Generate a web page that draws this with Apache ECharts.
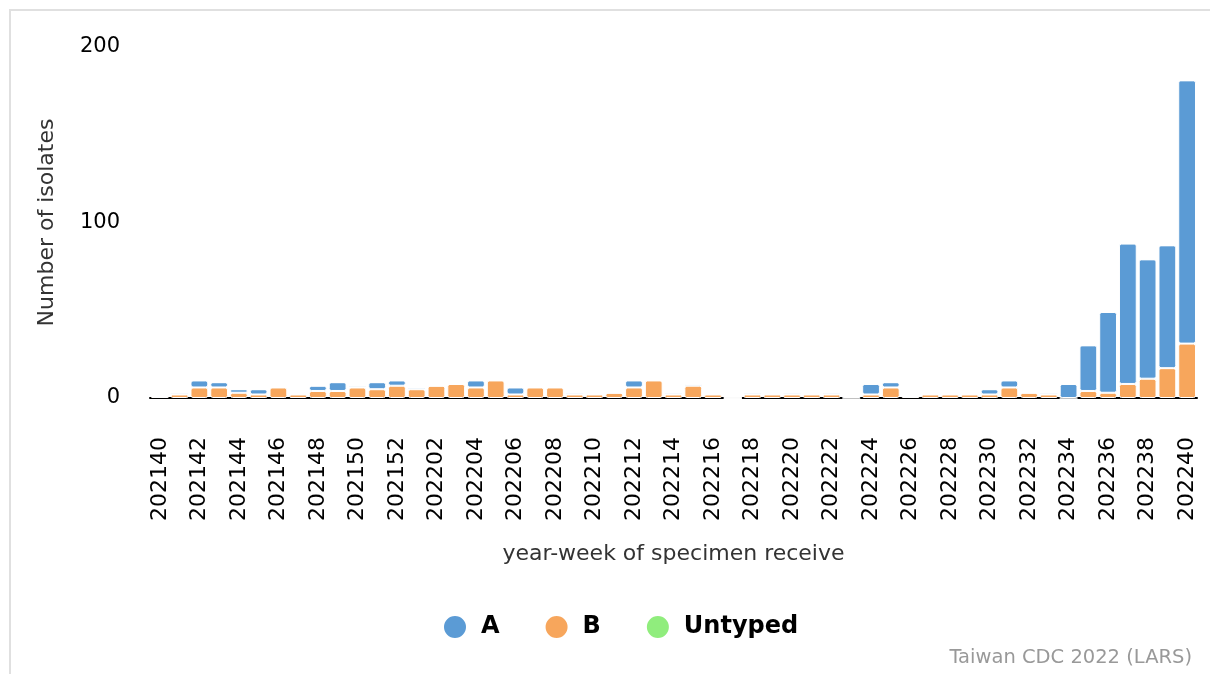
<!DOCTYPE html>
<html><head><meta charset="utf-8">
<script src="https://cdn.jsdelivr.net/npm/echarts@6/dist/echarts.min.js"></script>
<style>
html,body{margin:0;padding:0;background:#fff;overflow:hidden;}
#frame{position:absolute;left:9px;top:9px;width:1300px;height:800px;border:2px solid #e0e0e0;box-sizing:border-box;}
#chart{position:absolute;left:0;top:0;width:1210px;height:674px;}
</style></head>
<body>
<div id="frame"></div>
<div id="chart"></div>
<script>
const weeks = ["202140","202141","202142","202143","202144","202145","202146","202147","202148","202149","202150","202151","202152",
"202201","202202","202203","202204","202205","202206","202207","202208","202209","202210","202211","202212","202213","202214","202215","202216","202217","202218","202219","202220","202221","202222","202223","202224","202225","202226","202227","202228","202229","202230","202231","202232","202233","202234","202235","202236","202237","202238","202239","202240"];
const seriesA = [0,1,4,3,2,3,0,0,3,5,1,4,3,
1,0,0,4,0,4,0,0,1,0,0,4,0,1,1,0,0,1,0,1,0,1,1,6,3,0,0,0,0,3,4,0,1,8,26,46,80,68,70,150];
const seriesB = [1,2,6,6,3,2,6,2,4,4,6,5,7,
5,7,8,6,10,2,6,6,2,2,3,6,10,2,7,2,0,2,2,2,2,2,0,2,6,1,2,2,2,2,6,3,2,0,4,3,8,11,17,31];
const seriesUntyped = [0,0,0,0,0,0,0,0,0,0,0,0,0,
0,0,0,0,0,0,0,0,0,0,0,0,0,0,0,0,0,0,0,0,0,0,0,0,0,0,0,0,0,0,0,0,0,0,0,0,0,0,0,0];
const yTicks = [0,100,200];

const FONT = "DejaVu Sans";
const chart = echarts.init(document.getElementById('chart'), null, {renderer:'canvas'});
const barStyle = (c) => ({color:c, borderColor:'#ffffff', borderWidth:1, borderRadius:2});
chart.setOption({
  animation:false,
  textStyle:{fontFamily:FONT},
  grid:{left:150, right:13, top:47, bottom:276, containLabel:false},
  legend:{
    data:['A','B','Untyped'], bottom:29, left:437, icon:'circle', itemWidth:24, itemHeight:24, itemGap:44,
    textStyle:{fontFamily:FONT, fontSize:24, fontWeight:'bold', color:'#000', padding:[0,0,0,9]}
  },
  xAxis:{
    type:'category', data:weeks,
    axisLine:{lineStyle:{color:'#000', width:2}},
    axisTick:{show:false},
    axisLabel:{interval:1, rotate:90, fontSize:22, color:'#000', fontFamily:FONT, margin:39},
    name:'year-week of specimen receive', nameLocation:'middle', nameGap:145,
    nameTextStyle:{fontSize:22, color:'#333', fontFamily:FONT}
  },
  yAxis:{
    type:'value', min:yTicks[0], max:yTicks[2], interval:100,
    splitLine:{show:false}, axisLine:{show:false}, axisTick:{show:false},
    axisLabel:{fontSize:21, color:'#000', fontFamily:FONT, margin:30},
    name:'Number of isolates', nameLocation:'middle', nameGap:92,
    nameTextStyle:{fontSize:22, color:'#333', fontFamily:FONT}
  },
  series:[
    {name:'B', type:'bar', stack:'t', data:seriesB, itemStyle:barStyle('#f7a65c'), barCategoryGap:'10%'},
    {name:'A', type:'bar', stack:'t', data:seriesA, itemStyle:barStyle('#5b9bd5')},
    {name:'Untyped', type:'bar', stack:'t', data:seriesUntyped, itemStyle:barStyle('#90ed7d')}
  ],
  graphic:[{type:'text', right:18, bottom:6, style:{text:'Taiwan CDC 2022 (LARS)', fontFamily:FONT, fontSize:19.5, fill:'#999'}}]
});
</script>
</body></html>
